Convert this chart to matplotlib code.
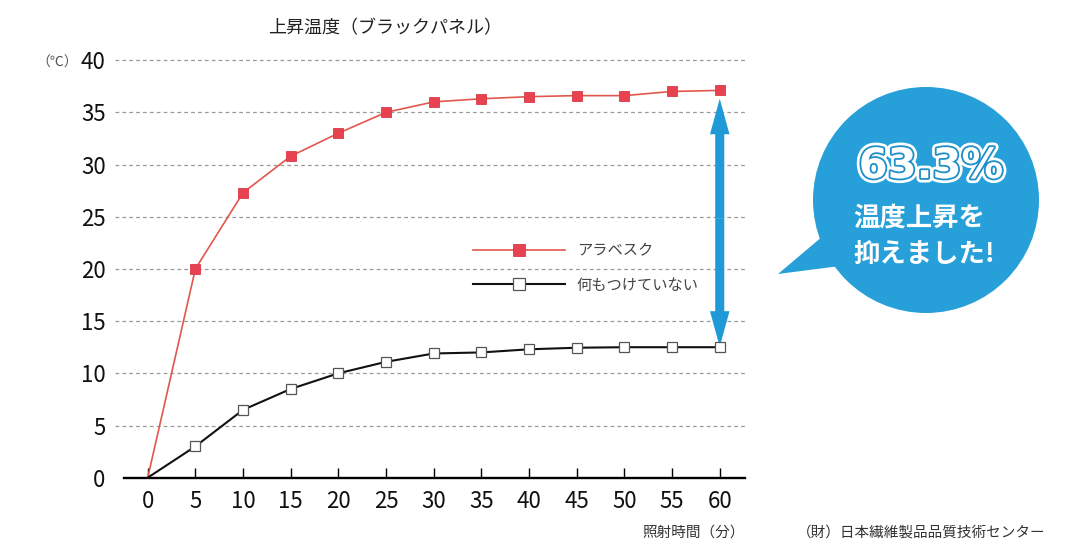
import matplotlib
matplotlib.use("Agg")
import matplotlib.pyplot as plt
import matplotlib.patheffects as pe
from matplotlib.patches import Circle, Polygon

plt.rcParams['font.family'] = ['Noto Sans CJK JP', 'DejaVu Sans']

# data
minutes = [0, 5, 10, 15, 20, 25, 30, 35, 40, 45, 50, 55, 60]
arabesque = [0, 20.0, 27.3, 30.8, 33.0, 35.0, 36.0, 36.3, 36.5, 36.6, 36.6, 37.0, 37.1]
untreated = [0, 3.0, 6.5, 8.5, 10.0, 11.1, 11.9, 12.0, 12.3, 12.45, 12.5, 12.5, 12.5]
y_ticks = [0, 5, 10, 15, 20, 25, 30, 35, 40]
x_ticks = minutes
series_labels = ['アラベスク', '何もつけていない']

RED_LINE = '#e2574c'
RED_MARK = '#e8414f'
BLUE = '#27a0da'
W, H = 1080, 551

fig = plt.figure(figsize=(10.8, 5.51), dpi=100)
fig.patch.set_facecolor('white')

# main axes, placed to match pixel layout
x_lo, x_hi = -3.4, 62.65
y_lo, y_hi = 0, 40.3
ax = fig.add_axes([115.3 / W, 1 - 477.7 / H, (745 - 115.3) / W, (477.7 - 57) / H])
ax.set_xlim(x_lo, x_hi)
ax.set_ylim(y_lo, y_hi)

# no marker at the origin
ax.plot(minutes, arabesque, color=RED_LINE, lw=1.2, marker='s', ms=7.5, markevery=slice(1, None),
        mfc=RED_MARK, mec='#d83a48', mew=0.6, label=series_labels[0], zorder=4, clip_on=False)
ax.plot(minutes, untreated, color='#111111', lw=1.5, marker='s', ms=7.5, markevery=slice(1, None),
        mfc='white', mec='#555555', mew=0.9, label=series_labels[1], zorder=4, clip_on=False)

# spines / ticks
for s in ['top', 'right', 'left']:
    ax.spines[s].set_visible(False)
ax.spines['bottom'].set_linewidth(1.7)
ax.spines['bottom'].set_bounds(-2.5, x_hi)
ax.set_xticks(x_ticks)
ax.set_yticks(y_ticks)
ax.tick_params(axis='x', direction='in', length=7, width=1, pad=9,
               labelsize=16, labelcolor='#111111')
ax.tick_params(axis='y', length=0, pad=7, labelsize=16, labelcolor='#111111')
ax.yaxis.grid(True, linestyle=(0, (3, 2.5)), color='#9a9a9a', lw=0.9)
ax.get_ygridlines()[0].set_visible(False)
ax.set_axisbelow(True)

# double blue arrow at the last point
mid = (arabesque[-1] + untreated[-1]) / 2
top = arabesque[-1] - 0.8
bot = untreated[-1] + 0.05
for end in (top, bot):
    ax.arrow(minutes[-1], mid, 0, end - mid, width=0.95, head_width=2.05,
             head_length=3.4, length_includes_head=True, color='#1f9ad6',
             lw=0, zorder=3, clip_on=False)

# legend
ax.legend(loc='upper left', bbox_to_anchor=(473 / W, 1 - 242 / H),
          bbox_transform=fig.transFigure, frameon=False, fontsize=11,
          handlelength=6.0, handletextpad=0.8, labelspacing=1.15, markerscale=1.2,
          borderpad=0, borderaxespad=0, numpoints=1, labelcolor='#444444')

# texts
fig.text(385 / W, 1 - 28 / H, '上昇温度（ブラックパネル）', ha='center', va='center',
         fontsize=13, color='#222222')
fig.text(57 / W, 1 - 62.5 / H, '（℃）', ha='center', va='center', fontsize=10, color='#555555')
fig.text(745 / W, 1 - 533 / H, '照射時間（分）', ha='right', va='center',
         fontsize=10.5, color='#333333')
fig.text(921 / W, 1 - 533 / H, '（財）日本繊維製品品質技術センター', ha='center', va='center',
         fontsize=10.5, color='#333333')

# speech bubble in pixel coordinates
ov = fig.add_axes([0, 0, 1, 1], zorder=5)
ov.set_xlim(0, W)
ov.set_ylim(H, 0)
ov.axis('off')
ov.patch.set_alpha(0)
ov.add_patch(Polygon([[778, 274], [823, 236], [840, 266]], closed=True, color=BLUE, lw=0))
ov.add_patch(Circle((926, 200), 113, color=BLUE, lw=0))
ov.text(931, 166, '63.3%', ha='center', va='center', fontsize=30, color='white',
        family='DejaVu Sans', weight='bold',
        path_effects=[pe.Stroke(linewidth=6.5, foreground='white'),
                      pe.Stroke(linewidth=2.6, foreground='#1f8fc8'),
                      pe.Normal()])
ov.text(853, 218, '温度上昇を', ha='left', va='center', fontsize=19,
        color='white', weight='bold')
ov.text(853, 254, '抑えました!', ha='left', va='center', fontsize=19,
        color='white', weight='bold')

fig.savefig('out.png', dpi=100)
